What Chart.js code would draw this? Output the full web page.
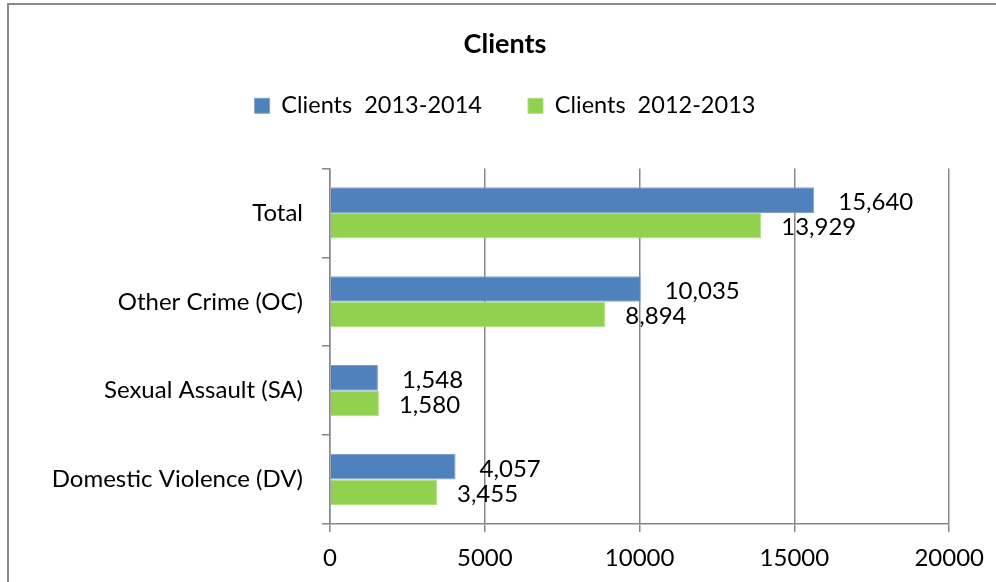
<!DOCTYPE html>
<html><head><meta charset="utf-8">
<script src="https://cdn.jsdelivr.net/npm/chart.js@4"></script>
<style>html,body{margin:0;padding:0;background:#fff}#wrap{width:996px;height:582px;position:relative}</style>
</head><body><div id="wrap"><canvas id="c"></canvas></div>
<script>
const chartTitle = 'Clients';
const categories = ['Total', 'Other Crime (OC)', 'Sexual Assault (SA)', 'Domestic Violence (DV)'];
const seriesNames = ['Clients  2013-2014', 'Clients  2012-2013'];
const clients2013_2014 = [15640, 10035, 1548, 4057];
const clients2012_2013 = [13929, 8894, 1580, 3455];
const xTicks = [0, 5000, 10000, 15000, 20000];

const FONT = 'Lato';
const GRID = '#878787';

const framePlugin = {
  id: 'frame',
  beforeDraw(chart) {
    const ctx = chart.ctx;
    ctx.save();
    ctx.fillStyle = '#fff';
    ctx.fillRect(0, 0, chart.width, chart.height);
    ctx.strokeStyle = '#8a8a8a';
    ctx.lineWidth = 2;
    ctx.strokeRect(8, 4, 2000, 2000);
    ctx.restore();
  }
};

const labelPlugin = {
  id: 'valueLabels',
  afterDatasetsDraw(chart) {
    const ctx = chart.ctx;
    const offsets = [24, 20];
    ctx.save();
    ctx.font = '24px ' + FONT;
    ctx.fillStyle = '#000';
    ctx.textAlign = 'left';
    ctx.textBaseline = 'middle';
    chart.data.datasets.forEach((ds, di) => {
      const meta = chart.getDatasetMeta(di);
      meta.data.forEach((bar, i) => {
        const txt = ds.data[i].toLocaleString('en-US');
        ctx.fillText(txt, bar.x + offsets[di], bar.y + 2);
      });
    });
    ctx.restore();
  }
};

function draw() {
  new Chart(document.getElementById('c'), {
    type: 'bar',
    data: {
      labels: categories,
      datasets: [
        { label: seriesNames[0], data: clients2013_2014, backgroundColor: '#4F81BD', borderColor: '#7fa3d1', borderWidth: 1, categoryPercentage: 0.575, barPercentage: 1 },
        { label: seriesNames[1], data: clients2012_2013, backgroundColor: '#92D050', borderColor: '#b0de82', borderWidth: 1, categoryPercentage: 0.575, barPercentage: 1 }
      ]
    },
    options: {
      indexAxis: 'y',
      responsive: true,
      maintainAspectRatio: false,
      animation: false,
      layout: { padding: { left: 14, right: 0, top: 0, bottom: 0 } },
      plugins: {
        title: {
          display: true, text: chartTitle, color: '#000',
          font: { family: FONT, size: 27, weight: 'bold', lineHeight: 0.3 },
          padding: { top: 39.95, bottom: 0 }
        },
        legend: {
          display: true, position: 'top',
          labels: { boxWidth: 15, boxHeight: 15, padding: 46, color: '#000', font: { family: FONT, size: 23.5 } }
        },
        tooltip: { enabled: false }
      },
      scales: {
        x: {
          type: 'linear', position: 'bottom', min: 0, max: 20000,
          afterBuildTicks: s => { s.ticks = xTicks.map(v => ({ value: v })); },
          afterFit: s => { s.height = 58; },
          ticks: { color: '#000', padding: 12, font: { family: FONT, size: 24 }, callback: v => String(v) },
          grid: { color: GRID, lineWidth: 1.5, drawTicks: true, tickLength: 8 },
          border: { color: GRID, width: 1.5 }
        },
        y: {
          type: 'category', position: 'left',
          afterFit: s => { s.width = 316; },
          ticks: { color: '#000', padding: 19, font: { family: FONT, size: 24 } },
          grid: { offset: true, drawOnChartArea: false, drawTicks: true, tickLength: 8, color: GRID, lineWidth: 1.5 },
          border: { color: GRID, width: 1.5 }
        },
        topSpace: {
          type: 'linear', position: 'top', display: true,
          afterFit: s => { s.height = 40.9; },
          ticks: { display: false }, grid: { display: false }, border: { display: false }
        },
        rightSpace: {
          type: 'linear', position: 'right', display: true,
          afterFit: s => { s.width = 46; },
          ticks: { display: false }, grid: { display: false }, border: { display: false }
        }
      }
    },
    plugins: [framePlugin, labelPlugin]
  });
}

Promise.all([
  document.fonts.load('24px ' + FONT),
  document.fonts.load('bold 27px ' + FONT)
]).then(draw, draw);
</script>
</body></html>
